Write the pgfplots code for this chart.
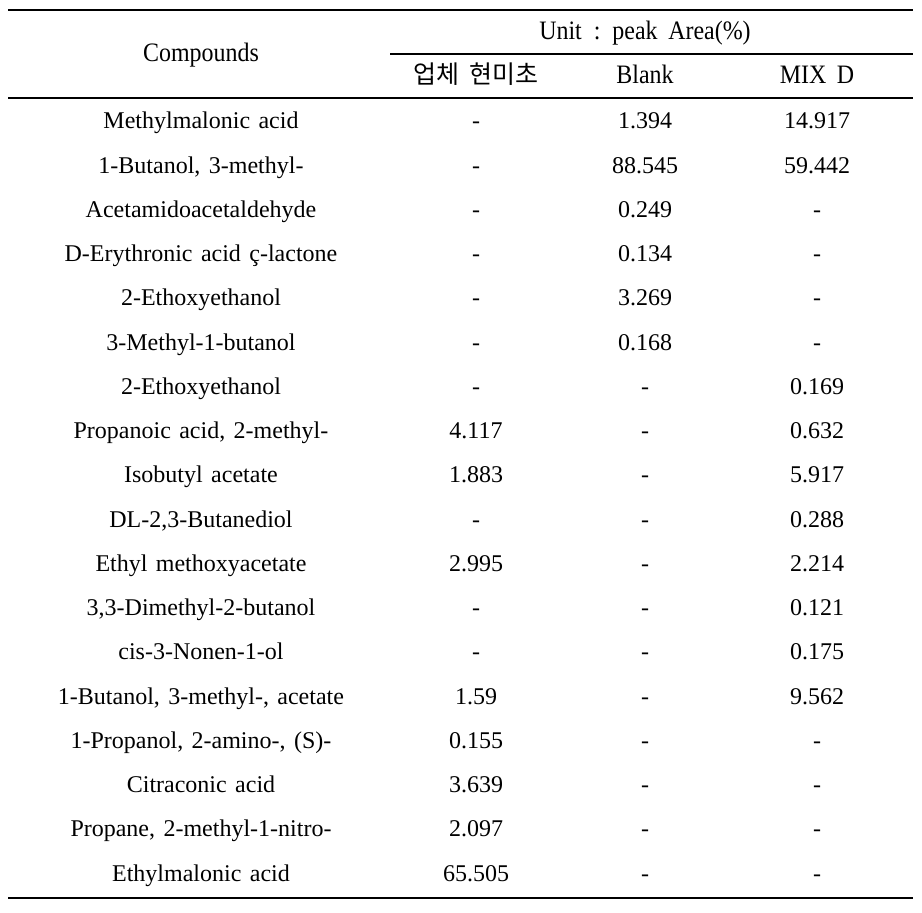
\documentclass[border=0pt]{standalone}
\usepackage{fontspec}
\usepackage{pgfplots}
\usepackage{pgfplotstable}
\pgfplotsset{compat=1.18}
\setmainfont{Liberation Serif}[WordSpace=1.4]
\newfontfamily\cjk{Noto Sans CJK KR}
\newfontfamily\hdr[FakeStretch=0.9]{Liberation Serif}
\protected\def\kor{{\cjk\fontsize{12.5}{14}\selectfont 업체\hspace{0.4em}현미초}}
\protected\def\unitlabel{Unit\hspace{0.45em}:\hspace{0.45em}peak\hspace{0.4em}Area(\%)}
\protected\def\mixd{MIX\hspace{0.4em}D}

% rows: compound; 업체 현미초; Blank; MIX D
\pgfplotstableread[col sep=semicolon]{
row;name;a;b;c
0;Methylmalonic acid;-;1.394;14.917
1;1-Butanol, 3-methyl-;-;88.545;59.442
2;Acetamidoacetaldehyde;-;0.249;-
3;D-Erythronic acid ç-lactone;-;0.134;-
4;2-Ethoxyethanol;-;3.269;-
5;3-Methyl-1-butanol;-;0.168;-
6;2-Ethoxyethanol;-;-;0.169
7;Propanoic acid, 2-methyl-;4.117;-;0.632
8;Isobutyl acetate;1.883;-;5.917
9;DL-2,3-Butanediol;-;-;0.288
10;Ethyl methoxyacetate;2.995;-;2.214
11;3,3-Dimethyl-2-butanol;-;-;0.121
12;cis-3-Nonen-1-ol;-;-;0.175
13;1-Butanol, 3-methyl-, acetate;1.59;-;9.562
14;1-Propanol, 2-amino-, (S)-;0.155;-;-
15;Citraconic acid;3.639;-;-
16;Propane, 2-methyl-1-nitro-;2.097;-;-
17;Ethylmalonic acid;65.505;-;-
}\datatable

\pgfplotstableread[col sep=semicolon]{
x;y;label
201;56;Compounds
645;34;\unitlabel
476;78;\kor
645;78;Blank
817;78;\mixd
}\headtable

\begin{document}
\begin{tikzpicture}
\begin{axis}[
  scale only axis,
  width=461pt, height=456.5pt,
  xmin=0, xmax=922, ymin=0, ymax=913,
  y dir=reverse,
  hide axis,
  clip=false,
  nodes near coords style={anchor=center, text=black, inner sep=0pt,
    text height=8.5pt, text depth=2.5pt},
]
% frame of the page
\addplot[draw=none] coordinates {(0,0) (922,913)};
% rules
\addplot[black, line width=0.8pt] coordinates {(8,10) (913,10)};
\addplot[black, line width=0.7pt] coordinates {(390,54) (913,54)};
\addplot[black, line width=0.8pt] coordinates {(8,98) (913,98)};
\addplot[black, line width=0.8pt] coordinates {(8,898) (913,898)};
% header
\addplot[draw=none, nodes near coords, point meta=explicit symbolic,
  nodes near coords style={font=\hdr\fontsize{13.3}{15}\selectfont}]
  table[x=x, y=y, meta=label] {\headtable};
% body
\addplot[draw=none, nodes near coords, point meta=explicit symbolic,
  nodes near coords style={font=\fontsize{12}{14}\selectfont}]
  table[x expr=201, y expr=123+44.25*\thisrow{row}, meta=name] {\datatable};
\addplot[draw=none, nodes near coords, point meta=explicit symbolic,
  nodes near coords style={font=\fontsize{12}{14}\selectfont}]
  table[x expr=476, y expr=123+44.25*\thisrow{row}, meta=a] {\datatable};
\addplot[draw=none, nodes near coords, point meta=explicit symbolic,
  nodes near coords style={font=\fontsize{12}{14}\selectfont}]
  table[x expr=645, y expr=123+44.25*\thisrow{row}, meta=b] {\datatable};
\addplot[draw=none, nodes near coords, point meta=explicit symbolic,
  nodes near coords style={font=\fontsize{12}{14}\selectfont}]
  table[x expr=817, y expr=123+44.25*\thisrow{row}, meta=c] {\datatable};
\end{axis}
\end{tikzpicture}
\end{document}
